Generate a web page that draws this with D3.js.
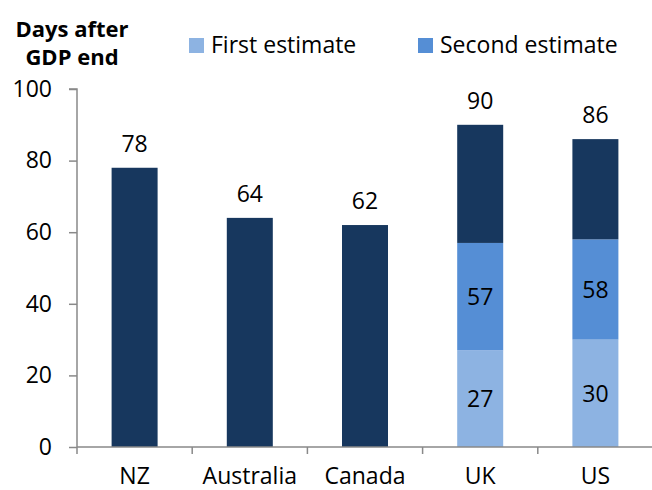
<!DOCTYPE html>
<html>
<head>
<meta charset="utf-8">
<script src="https://cdn.jsdelivr.net/npm/d3@7"></script>
<style>
  body { margin: 0; background: #fff; }
  text { font-family: "Open Sans", "Noto Sans", sans-serif; fill: #000; }
</style>
</head>
<body>
<svg id="chart" width="652" height="490"></svg>
<script>
var countries = ["NZ", "Australia", "Canada", "UK", "US"],
	firstEstimate = [null, null, null, 27, 30],
	secondEstimate = [null, null, null, 57, 58],
	finalDays = [78, 64, 62, 90, 86],
	yTicks = [0, 20, 40, 60, 80, 100];

var colors = {first: "#8db3e2", second: "#558ed5", final: "#17375e"};

var svg = d3.select("#chart"),
	margin = {left: 77, top: 89},
	width = 653 - margin.left,
	height = 358,
	barW = 46,
	fs = "23px";

var g = svg.append("g").attr("transform", "translate(" + margin.left + "," + margin.top + ")");

var x = d3.scaleBand().domain(countries).range([0, width]);
var y = d3.scaleLinear().domain([0, 100]).range([height, 0]);

// build segments from the arrays
var segs = [];
countries.forEach(function (c, i) {
	var base = 0;
	if (firstEstimate[i] != null) {
		segs.push({c: c, y0: 0, y1: firstEstimate[i], col: colors.first, label: firstEstimate[i]});
		segs.push({c: c, y0: firstEstimate[i], y1: secondEstimate[i], col: colors.second, label: secondEstimate[i]});
		base = secondEstimate[i];
	}
	segs.push({c: c, y0: base, y1: finalDays[i], col: colors.final, label: null});
});

g.selectAll(".seg")
	.data(segs)
	.enter()
	.append("rect")
	.attr("class", "seg")
	.attr("x", function (d) { return x(d.c) + (x.bandwidth() - barW) / 2; })
	.attr("width", barW)
	.attr("y", function (d) { return y(d.y1); })
	.attr("height", function (d) { return y(d.y0) - y(d.y1); })
	.attr("fill", function (d) { return d.col; });

g.selectAll(".seglabel")
	.data(segs.filter(function (d) { return d.label != null; }))
	.enter()
	.append("text")
	.attr("x", function (d) { return x(d.c) + x.bandwidth() / 2; })
	.attr("y", function (d) { return (y(d.y0) + y(d.y1)) / 2; })
	.attr("dy", "0.36em")
	.attr("text-anchor", "middle")
	.attr("font-size", fs)
	.text(function (d) { return d.label; });

g.selectAll(".total")
	.data(countries)
	.enter()
	.append("text")
	.attr("x", function (d) { return x(d) + x.bandwidth() / 2; })
	.attr("y", function (d, i) { return y(finalDays[i]) - 16; })
	.attr("text-anchor", "middle")
	.attr("font-size", fs)
	.text(function (d, i) { return finalDays[i]; });

// y axis
var yAxis = g.append("g").call(d3.axisLeft(y).tickValues(yTicks).tickSize(8).tickPadding(17));
yAxis.select(".domain").attr("stroke", "#898989").attr("stroke-width", 1.5).attr("d", "M0," + (height + 7) + "V0H-8");
yAxis.selectAll(".tick line").attr("stroke", "#898989").attr("stroke-width", 1.5);
yAxis.selectAll(".tick text").attr("font-size", fs).attr("fill", "#000")
	.style("font-family", "'Open Sans', 'Noto Sans', sans-serif");

// x axis with ticks between categories
var xAxis = g.append("g").attr("transform", "translate(0," + height + ")");
xAxis.append("line").attr("x1", 0).attr("x2", width).attr("stroke", "#898989").attr("stroke-width", 1.5);
xAxis.selectAll(".sep")
	.data(countries.slice(1))
	.enter()
	.append("line")
	.attr("x1", function (d) { return x(d); })
	.attr("x2", function (d) { return x(d); })
	.attr("y1", 0).attr("y2", 7)
	.attr("stroke", "#898989").attr("stroke-width", 1.5);
xAxis.selectAll(".xl")
	.data(countries)
	.enter()
	.append("text")
	.attr("x", function (d) { return x(d) + x.bandwidth() / 2; })
	.attr("y", 37)
	.attr("text-anchor", "middle")
	.attr("font-size", fs)
	.text(function (d) { return d; });

// y title
var ttl = svg.append("text").attr("text-anchor", "middle").attr("font-size", "22px").attr("font-weight", "bold");
ttl.append("tspan").attr("x", 72).attr("y", 37).text("Days after");
ttl.append("tspan").attr("x", 72).attr("y", 65).text("GDP end");

// legend
var legend = [{k: "First estimate", col: colors.first, x: 189}, {k: "Second estimate", col: colors.second, x: 418}];
var lg = svg.selectAll(".lg").data(legend).enter().append("g")
	.attr("transform", function (d) { return "translate(" + d.x + ",38)"; });
lg.append("rect").attr("width", 15).attr("height", 15).attr("fill", function (d) { return d.col; });
lg.append("text").attr("x", 22).attr("y", 15).attr("font-size", fs).text(function (d) { return d.k; });
</script>
</body>
</html>
